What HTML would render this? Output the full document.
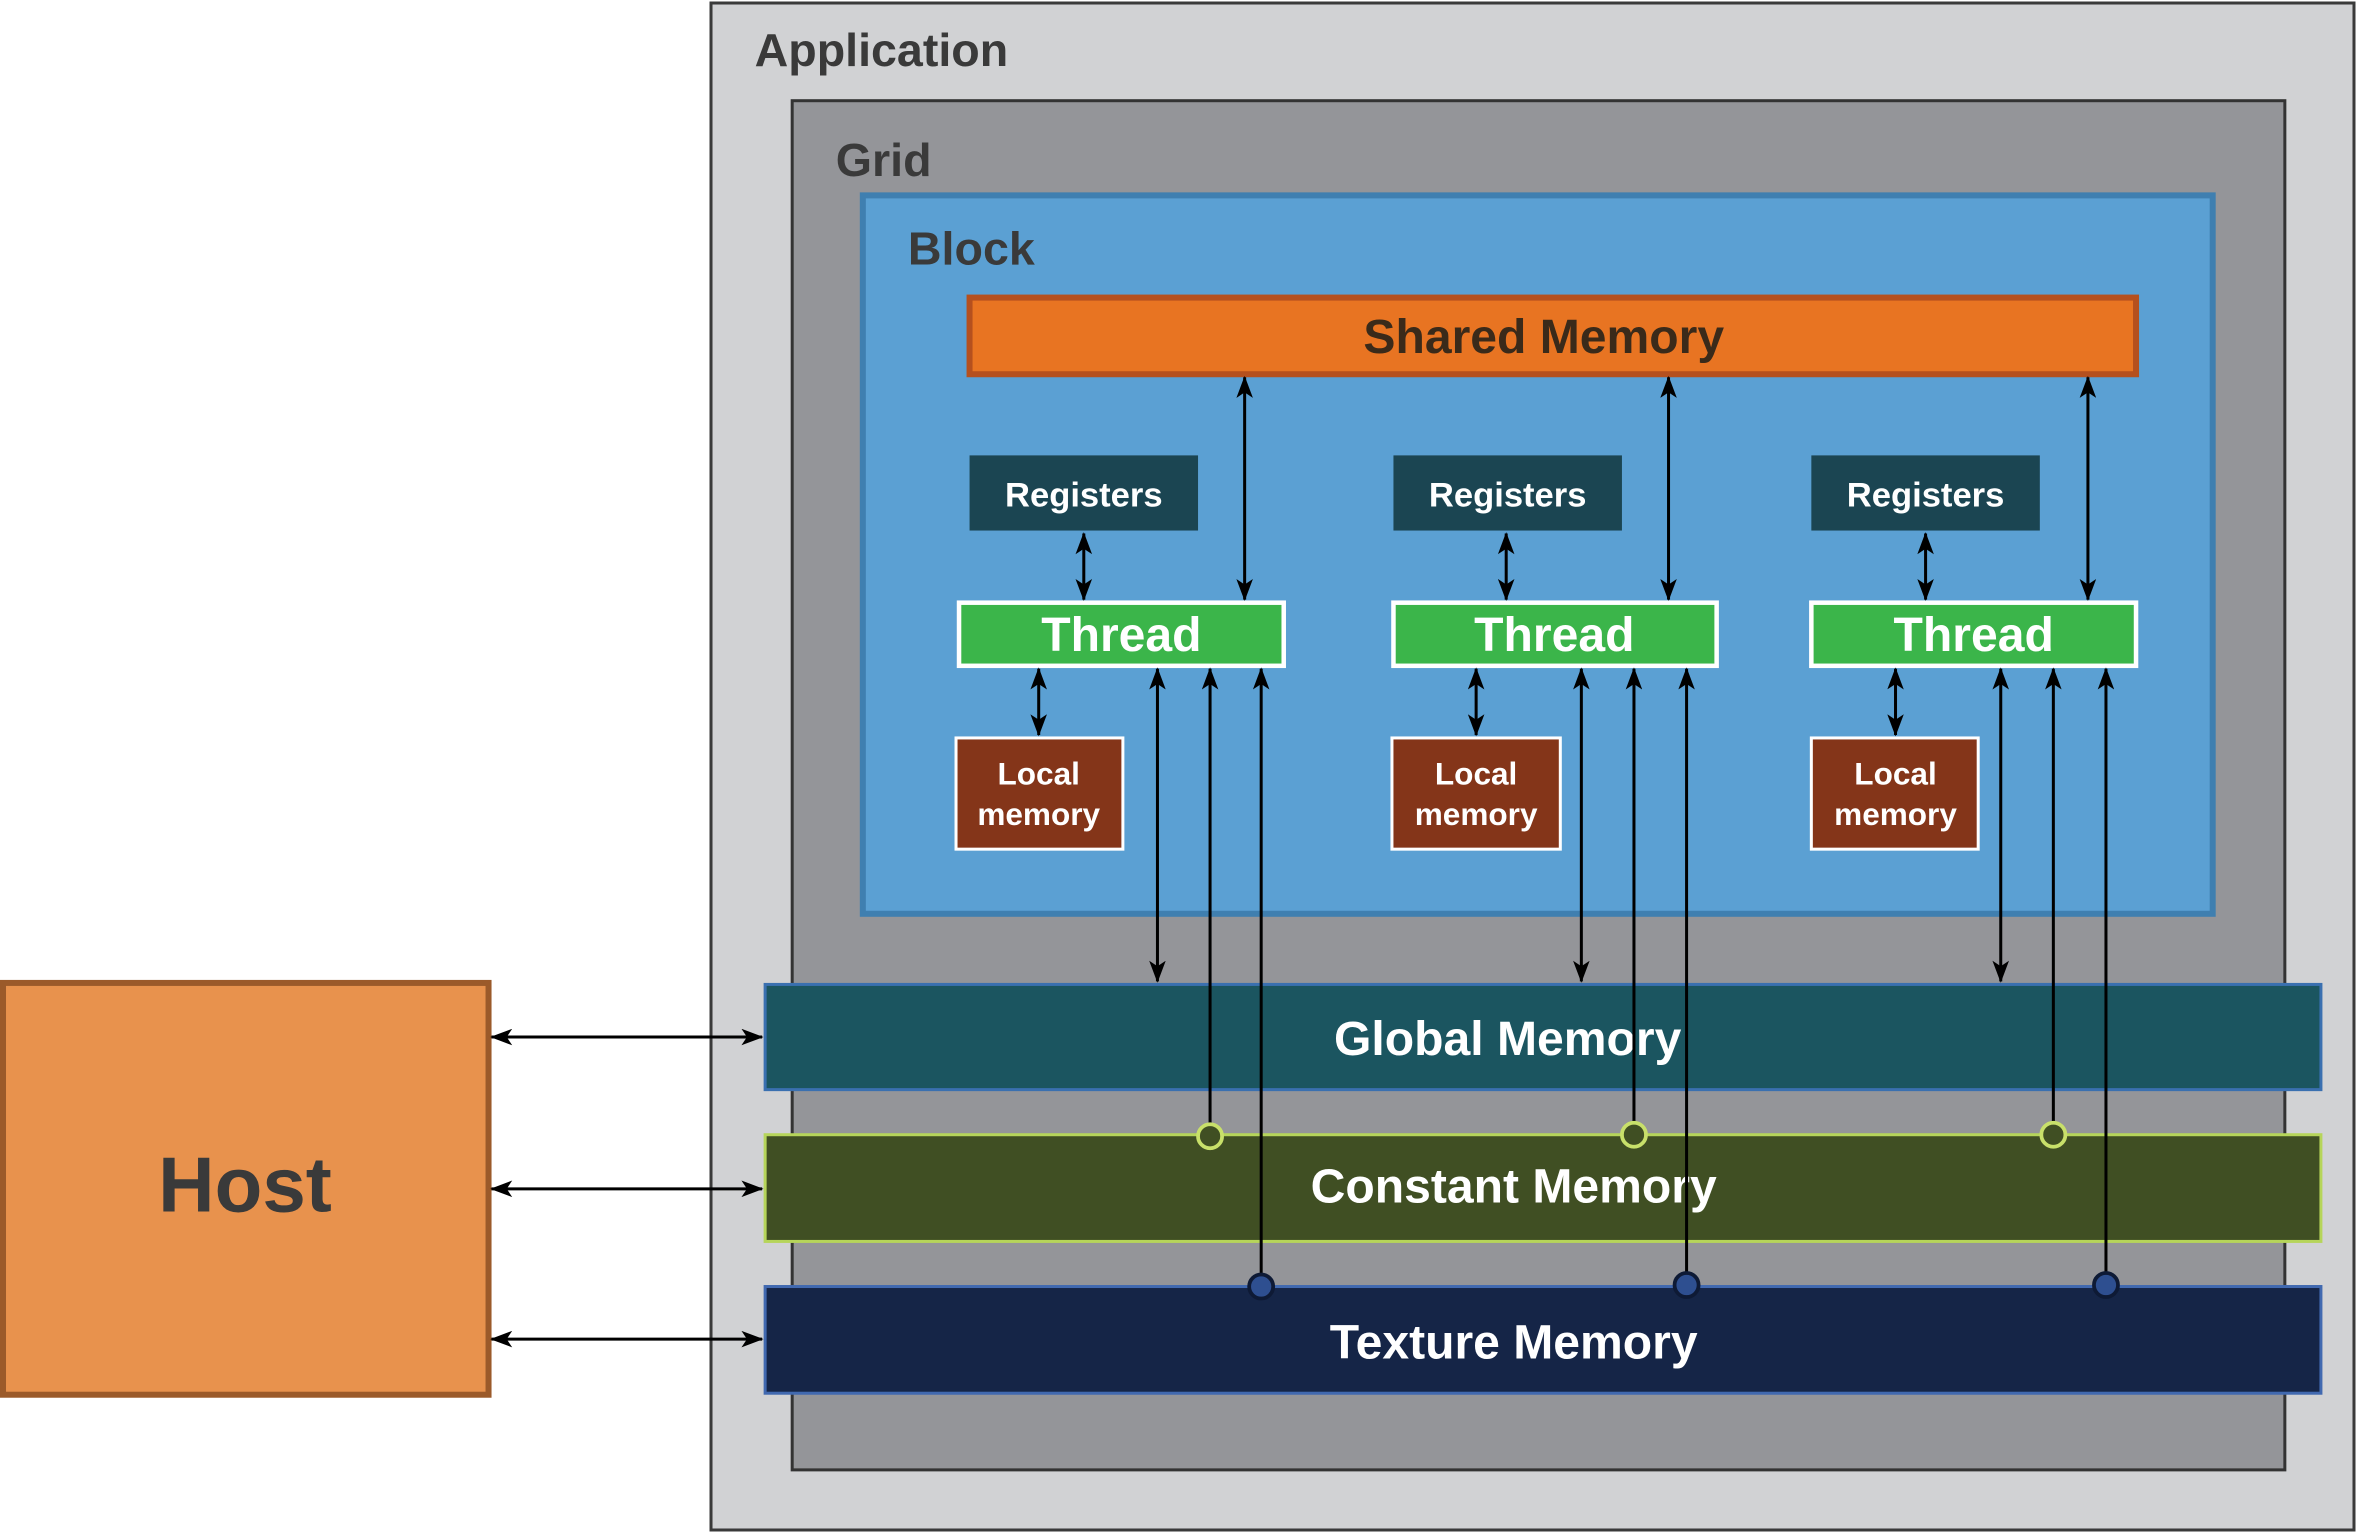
<!DOCTYPE html>
<html><head><meta charset="utf-8"><style>
html,body{margin:0;padding:0;background:#fff;}
svg{display:block;}
text{font-family:"Liberation Sans","DejaVu Sans",sans-serif;font-weight:bold;}
</style></head><body>
<svg width="2357" height="1533" viewBox="0 0 1568 1020" preserveAspectRatio="none" xmlns="http://www.w3.org/2000/svg">
<defs>
<marker id="a" viewBox="0 0 16 12" refX="15" refY="6" markerWidth="15" markerHeight="11" orient="auto-start-reverse" markerUnits="userSpaceOnUse">
<path d="M0,0 L16,6 L0,12 L4,6 z" fill="#000"/></marker>
</defs>
<rect x="0" y="0" width="1568" height="1020" fill="#fff"/>
<rect x="473" y="2" width="1093" height="1016" fill="#d1d2d4" stroke="#3a3a3a" stroke-width="2"/>
<text x="502" y="44" font-size="31" fill="#3a3a3a">Application</text>
<rect x="527" y="67" width="993" height="911" fill="#949599" stroke="#333" stroke-width="2"/>
<text x="556" y="117" font-size="31" fill="#3a3a3a">Grid</text>
<rect x="574" y="130" width="898" height="478" fill="#5ba0d3" stroke="#3f7fb0" stroke-width="4"/>
<text x="604" y="176" font-size="31" fill="#3a3a3a">Block</text>
<rect x="645" y="198" width="776" height="51" fill="#e87422" stroke="#b5501e" stroke-width="4"/>
<text x="1027" y="235" font-size="32" fill="#3a2a1a" text-anchor="middle">Shared Memory</text>

<g font-size="23" fill="#fff" text-anchor="middle">
<rect x="645" y="303" width="152" height="50" fill="#1b4552"/><text x="721" y="337">Registers</text>
<rect x="927" y="303" width="152" height="50" fill="#1b4552"/><text x="1003" y="337">Registers</text>
<rect x="1205" y="303" width="152" height="50" fill="#1b4552"/><text x="1281" y="337">Registers</text>
</g>
<g font-size="32" fill="#fff" text-anchor="middle">
<rect x="638" y="401" width="216" height="42" fill="#3bb54a" stroke="#fff" stroke-width="3"/><text x="746" y="433">Thread</text>
<rect x="927" y="401" width="215" height="42" fill="#3bb54a" stroke="#fff" stroke-width="3"/><text x="1034" y="433">Thread</text>
<rect x="1205" y="401" width="216" height="42" fill="#3bb54a" stroke="#fff" stroke-width="3"/><text x="1313" y="433">Thread</text>
</g>
<g font-size="21" fill="#fff" text-anchor="middle">
<rect x="636" y="491" width="111" height="74" fill="#843519" stroke="#fff" stroke-width="2"/><text x="691" y="522">Local</text><text x="691" y="549">memory</text>
<rect x="926" y="491" width="112" height="74" fill="#843519" stroke="#fff" stroke-width="2"/><text x="982" y="522">Local</text><text x="982" y="549">memory</text>
<rect x="1205" y="491" width="111" height="74" fill="#843519" stroke="#fff" stroke-width="2"/><text x="1261" y="522">Local</text><text x="1261" y="549">memory</text>
</g>

<rect x="509" y="655" width="1035" height="70" fill="#1b5560" stroke="#3a70b0" stroke-width="2"/>
<text x="1003" y="702" font-size="32" fill="#fff" text-anchor="middle">Global Memory</text>
<rect x="509" y="755" width="1035" height="71" fill="#404f23" stroke="#b6d55a" stroke-width="2"/>
<text x="1007" y="800" font-size="32" fill="#fff" text-anchor="middle">Constant Memory</text>
<rect x="509" y="856" width="1035" height="71" fill="#152547" stroke="#4169b0" stroke-width="2"/>
<text x="1007" y="904" font-size="32" fill="#fff" text-anchor="middle">Texture Memory</text>

<rect x="2" y="654" width="323" height="274" fill="#e8924d" stroke="#9b5a2a" stroke-width="4"/>
<text x="163" y="806" font-size="52" fill="#3a3a3a" text-anchor="middle">Host</text>

<g stroke="#000" stroke-width="2" fill="none" marker-start="url(#a)" marker-end="url(#a)">
<line x1="327" y1="690" x2="507" y2="690"/>
<line x1="327" y1="791" x2="507" y2="791"/>
<line x1="327" y1="891" x2="507" y2="891"/>
<line x1="828" y1="251" x2="828" y2="399"/>
<line x1="1110" y1="251" x2="1110" y2="399"/>
<line x1="1389" y1="251" x2="1389" y2="399"/>
<line x1="721" y1="355" x2="721" y2="399"/>
<line x1="1002" y1="355" x2="1002" y2="399"/>
<line x1="1281" y1="355" x2="1281" y2="399"/>
<line x1="691" y1="445" x2="691" y2="489"/>
<line x1="982" y1="445" x2="982" y2="489"/>
<line x1="1261" y1="445" x2="1261" y2="489"/>
<line x1="770" y1="445" x2="770" y2="653"/>
<line x1="1052" y1="445" x2="1052" y2="653"/>
<line x1="1331" y1="445" x2="1331" y2="653"/>
</g>
<g stroke="#000" stroke-width="2" fill="none" marker-start="url(#a)">
<line x1="805" y1="445" x2="805" y2="748"/>
<line x1="1087" y1="445" x2="1087" y2="748"/>
<line x1="1366" y1="445" x2="1366" y2="748"/>
<line x1="839" y1="445" x2="839" y2="848"/>
<line x1="1122" y1="445" x2="1122" y2="848"/>
<line x1="1401" y1="445" x2="1401" y2="848"/>
</g>
<g fill="#404f23" stroke="#c8e06a" stroke-width="2.5">
<circle cx="805" cy="756" r="8"/><circle cx="1087" cy="755" r="8"/><circle cx="1366" cy="755" r="8"/>
</g>
<g fill="#2e4f90" stroke="#0e1a35" stroke-width="2.5">
<circle cx="839" cy="856" r="8"/><circle cx="1122" cy="855" r="8"/><circle cx="1401" cy="855" r="8"/>
</g>
</svg>
</body></html>
